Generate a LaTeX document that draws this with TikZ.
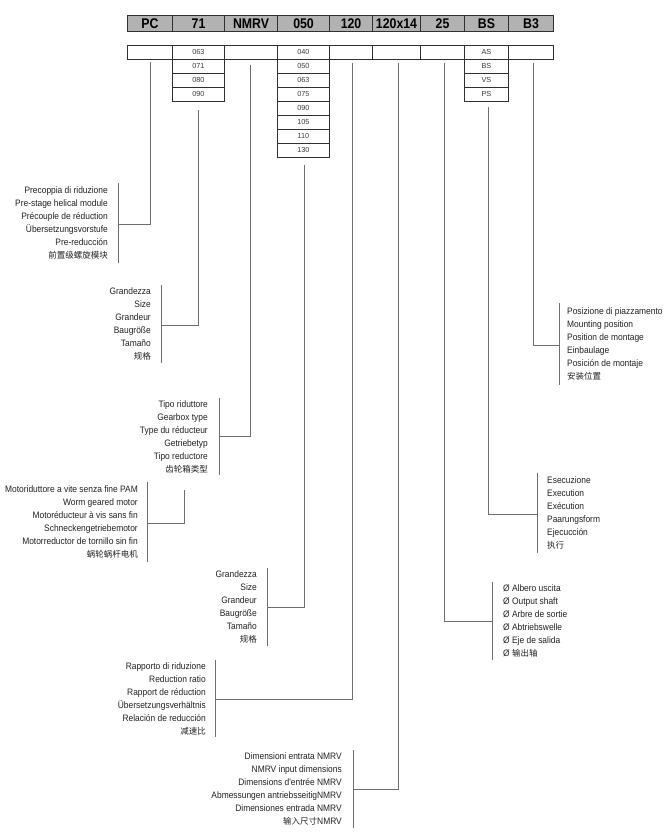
\documentclass[tikz,border=0pt]{standalone}
\usepackage{fontspec}
\setmainfont{Liberation Sans}
\newfontfamily\lblfont[FakeStretch=0.9]{Liberation Sans}
\newfontfamily\hdrfont[FakeStretch=0.88]{Liberation Sans}
\newfontfamily\cjk{Noto Sans CJK SC}
\definecolor{linegray}{HTML}{6E6E6E}
\definecolor{hdrfill}{HTML}{B2B2B2}
\definecolor{hdrborder}{HTML}{303030}
\definecolor{txt}{HTML}{222222}
\definecolor{opttxt}{HTML}{3A3A3A}
\tikzset{
  hdrcell/.style={draw=hdrborder, fill=hdrfill, line width=1.1pt, inner sep=0pt, anchor=north west,
    minimum height=16pt, text=black, font=\hdrfont\bfseries\fontsize{14}{14}\selectfont},
  optcell/.style={draw=hdrborder, fill=white, line width=0.9pt, inner sep=0pt, anchor=north west,
    minimum height=14pt, text=opttxt, font=\fontsize{7.3}{7.3}\selectfont},
  conn/.style={draw=linegray, line width=0.9pt},
  lblL/.style={anchor=east, align=right, inner sep=0pt, text=txt, font=\lblfont\fontsize{9.35}{13}\selectfont},
  lblR/.style={anchor=west, align=left, inner sep=0pt, text=txt, font=\lblfont\fontsize{9.35}{13}\selectfont}
}
\newcommand{\cjkline}[1]{{\cjk\fontsize{8.5}{13}\selectfont #1}}
\begin{document}
\begin{tikzpicture}[x=1pt,y=-1pt]
\useasboundingbox (0,0) rectangle (668,839);
\fill[white] (0,0) rectangle (668,839);

% header row
\foreach \l/\r/\t/\n in {127/172/PC/pc,172/224/71/sz,224/277/NMRV/nmrv,277/329/050/szb,329/372/120/rat,372/420/120x14/inp,420/464/25/sh,464/508/BS/ex,508/553/B3/mp}{
  \pgfmathsetmacro\w{\r-\l}
  \node[hdrcell, minimum width=\w pt] (h-\n) at (\l,15) {\t};
}
% second row
\foreach \l/\r/\t/\n in {127/172//pc,172/224/063/sz,224/277//nmrv,277/329/040/szb,329/372//rat,372/420//inp,420/464//sh,464/508/AS/ex,508/553//mp}{
  \pgfmathsetmacro\w{\r-\l}
  \node[optcell, minimum width=\w pt] (r-\n) at (\l,45) {\t};
}
% option lists
\foreach \i/\t in {1/071,2/080,3/090}{
  \node[optcell, minimum width=52pt] (o-sz-\i) at (172,45+14*\i) {\t};
}
\foreach \i/\t in {1/050,2/063,3/075,4/090,5/105,6/110,7/130}{
  \node[optcell, minimum width=52pt] (o-szb-\i) at (277,45+14*\i) {\t};
}
\foreach \i/\t in {1/BS,2/VS,3/PS}{
  \node[optcell, minimum width=44pt] (o-ex-\i) at (464,45+14*\i) {\t};
}

% labels (left side)
\node[lblL] (t1) at (108,223) {Precoppia di riduzione\\Pre-stage helical module\\Précouple de réduction\\Übersetzungsvorstufe\\Pre-reducción\\\cjkline{前置级螺旋模块}};
\node[lblL] (t2) at (151,324) {Grandezza\\Size\\Grandeur\\Baugröße\\Tamaño\\\cjkline{规格}};
\node[lblL] (t3) at (208,436.5) {Tipo riduttore\\Gearbox type\\Type du réducteur\\Getriebetyp\\Tipo reductore\\\cjkline{齿轮箱类型}};
\node[lblL] (t4) at (138,522) {Motoriduttore a vite senza fine PAM\\Worm geared motor\\Motoréducteur à vis sans fin\\Schneckengetriebemotor\\Motorreductor de tornillo sin fin\\\cjkline{蜗轮蜗杆电机}};
\node[lblL] (t5) at (257,607) {Grandezza\\Size\\Grandeur\\Baugröße\\Tamaño\\\cjkline{规格}};
\node[lblL] (t6) at (206,698.5) {Rapporto di riduzione\\Reduction ratio\\Rapport de réduction\\Übersetzungsverhältnis\\Relación de reducción\\\cjkline{减速比}};
\node[lblL] (t7) at (342,789) {Dimensioni entrata NMRV\\NMRV input dimensions\\Dimensions d'entrée NMRV\\Abmessungen antriebsseitigNMRV\\Dimensiones entrada NMRV\\\cjkline{输入尺寸}NMRV};
% labels (right side)
\node[lblR] (t8) at (567,344) {Posizione di piazzamento\\Mounting position\\Position de montage\\Einbaulage\\Posición de montaje\\\cjkline{安装位置}};
\node[lblR] (t9) at (547,513) {Esecuzione\\Execution\\Exécution\\Paarungsform\\Ejecucción\\\cjkline{执行}};
\node[lblR] (t10) at (503,621) {Ø Albero uscita\\Ø Output shaft\\Ø Arbre de sortie\\Ø Abtriebswelle\\Ø Eje de salida\\Ø \cjkline{输出轴}};

% connector coordinates: column start, junction, bracket ends
\foreach \n/\cx/\ty/\hy/\bx/\bt/\bb in {
  1/150/62/224/118/183/263,
  2/198/110/325/161/285/363,
  3/250/65/436/219/398/475,
  4/184/490/523/147/482/562,
  5/304/165/607/267/568/646,
  6/352/63/699/215/660/737,
  7/398/63/789/353/750/828,
  8/533/63/345/559/303/385,
  9/488/107/514/537/473/553,
  10/444/63/621/492/582/660}{
  \coordinate (c\n) at (\cx,\ty);
  \coordinate (j\n) at (\bx,\hy);
  \coordinate (bt\n) at (\bx,\bt);
  \coordinate (bb\n) at (\bx,\bb);
  \draw[conn] (c\n) |- (j\n);
  \draw[conn] (bt\n) -- (bb\n);
}
\end{tikzpicture}
\end{document}
